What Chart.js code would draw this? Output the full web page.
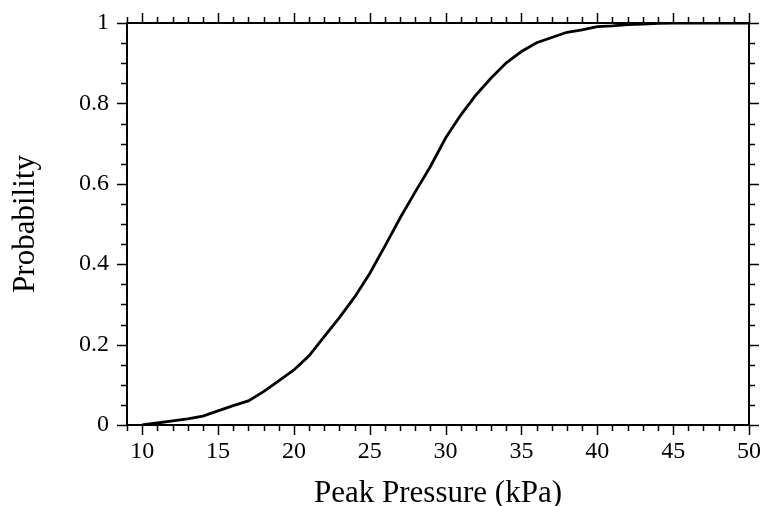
<!DOCTYPE html>
<html lang="en">
<head>
    <meta charset="UTF-8">
    <title>Peak Pressure Probability</title>
    <script src="https://cdn.jsdelivr.net/npm/chart.js"></script>
    <style>
        body, html {
            margin: 0;
            padding: 0;
            background: #fff;
            overflow: hidden;
        }
        #wrap {
            width: 760px;
            height: 506px;
        }
    </style>
</head>
<body>
    <div id="wrap"><canvas id="probChart"></canvas></div>

    <script>
        // data
        const pressure = [10, 11, 12, 13, 14, 15, 16, 17, 18, 19,
                          20, 21, 22, 23, 24, 25, 26, 27, 28, 29,
                          30, 31, 32, 33, 34, 35, 36, 37, 38, 39,
                          40, 41, 42, 43, 44, 45, 46, 47, 48, 49, 50];
        const probability = [0, 0.005, 0.01, 0.015, 0.022, 0.035, 0.048, 0.06, 0.083, 0.11,
                             0.137, 0.172, 0.22, 0.267, 0.318, 0.377, 0.445, 0.515, 0.58, 0.643,
                             0.714, 0.771, 0.821, 0.863, 0.901, 0.929, 0.951, 0.964, 0.977, 0.983,
                             0.991, 0.993, 0.996, 0.997, 0.999, 1, 1, 1, 1, 1, 1];
        const xTickLabels = [10, 15, 20, 25, 30, 35, 40, 45, 50];
        const yTickLabels = [0, 0.2, 0.4, 0.6, 0.8, 1];

        const serif = "'Liberation Serif', 'DejaVu Serif', serif";

        // frame with major / minor ticks pointing outward on all four sides
        const framePlugin = {
            id: 'frame',
            afterDraw(chart) {
                const ctx = chart.ctx;
                const a = chart.chartArea;
                const xs = chart.scales.x;
                const ys = chart.scales.y;
                ctx.save();
                ctx.strokeStyle = '#000';
                ctx.lineWidth = 2;
                ctx.strokeRect(a.left, a.top, a.right - a.left, a.bottom - a.top);
                ctx.lineWidth = 1.5;
                ctx.beginPath();
                for (let v = 9; v <= 50; v++) {
                    const px = Math.round(xs.getPixelForValue(v)) + 0.5;
                    const len = v % 5 === 0 ? 10 : 6;
                    ctx.moveTo(px, a.bottom);
                    ctx.lineTo(px, a.bottom + len);
                    ctx.moveTo(px, a.top);
                    ctx.lineTo(px, a.top - len);
                }
                for (let i = 0; i <= 20; i++) {
                    const py = Math.round(ys.getPixelForValue(i * 0.05)) + 0.5;
                    const len = i % 4 === 0 ? 10 : 6;
                    ctx.moveTo(a.left, py);
                    ctx.lineTo(a.left - len, py);
                    ctx.moveTo(a.right, py);
                    ctx.lineTo(a.right + len, py);
                }
                ctx.stroke();
                ctx.restore();
            }
        };

        const ctx = document.getElementById('probChart').getContext('2d');
        new Chart(ctx, {
            type: 'line',
            data: {
                datasets: [{
                    data: pressure.map((p, i) => ({ x: p, y: probability[i] })),
                    borderColor: '#000',
                    borderWidth: 2.8,
                    pointRadius: 0,
                    tension: 0,
                    fill: false
                }]
            },
            options: {
                responsive: true,
                maintainAspectRatio: false,
                animation: false,
                layout: {
                    padding: { top: 23, right: 11, left: 0, bottom: 0 }
                },
                plugins: {
                    legend: { display: false },
                    tooltip: { enabled: false }
                },
                scales: {
                    x: {
                        type: 'linear',
                        min: 9,
                        max: 50,
                        grid: { display: false },
                        border: { display: false },
                        afterBuildTicks: s => { s.ticks = xTickLabels.map(v => ({ value: v })); },
                        afterFit: s => {
                            s.height = 81;
                            s.paddingLeft = 0;
                            s.paddingRight = 0;
                        },
                        ticks: {
                            color: '#000',
                            padding: 4,
                            maxRotation: 0,
                            font: { family: serif, size: 24 },
                            callback: v => String(v)
                        },
                        title: {
                            display: true,
                            text: 'Peak Pressure (kPa)',
                            color: '#000',
                            padding: { top: 0, bottom: 0 },
                            font: { family: serif, size: 31, lineHeight: 0.8 }
                        }
                    },
                    y: {
                        min: 0,
                        max: 1,
                        grid: { display: false },
                        border: { display: false },
                        afterBuildTicks: s => { s.ticks = yTickLabels.map(v => ({ value: v })); },
                        afterFit: s => {
                            s.width = 127;
                            s.paddingTop = 0;
                            s.paddingBottom = 0;
                        },
                        ticks: {
                            color: '#000',
                            padding: 10,
                            font: { family: serif, size: 24 },
                            callback: v => String(v)
                        },
                        title: {
                            display: true,
                            text: 'Probability',
                            color: '#000',
                            padding: { top: 10, bottom: 0 },
                            font: { family: serif, size: 31, lineHeight: 1.0 }
                        }
                    }
                }
            },
            plugins: [framePlugin]
        });
    </script>
</body>
</html>
